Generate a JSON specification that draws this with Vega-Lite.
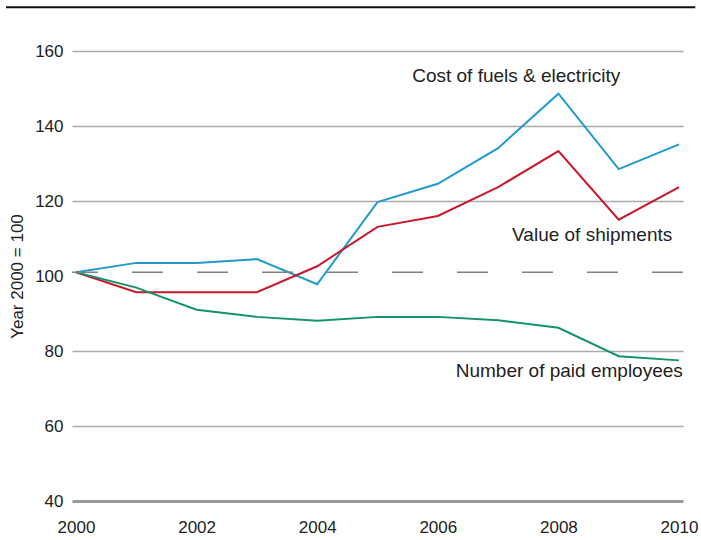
{
  "$schema": "https://vega.github.io/schema/vega-lite/v6.json",
  "width": 611,
  "height": 450,
  "autosize": {"type": "none"},
  "padding": {"left": 72, "top": 51, "right": 18, "bottom": 39},
  "background": "white",
  "config": {
    "view": {"stroke": null},
    "font": "Liberation Sans, Arial, sans-serif"
  },
  "datasets": {
    "series": [
      {"year": 2000, "series": "Cost of fuels & electricity", "value": 101},
      {"year": 2001, "series": "Cost of fuels & electricity", "value": 103.5},
      {"year": 2002, "series": "Cost of fuels & electricity", "value": 103.5},
      {"year": 2003, "series": "Cost of fuels & electricity", "value": 104.5},
      {"year": 2004, "series": "Cost of fuels & electricity", "value": 97.8},
      {"year": 2005, "series": "Cost of fuels & electricity", "value": 119.7},
      {"year": 2006, "series": "Cost of fuels & electricity", "value": 124.6},
      {"year": 2007, "series": "Cost of fuels & electricity", "value": 134.1},
      {"year": 2008, "series": "Cost of fuels & electricity", "value": 148.6},
      {"year": 2009, "series": "Cost of fuels & electricity", "value": 128.5},
      {"year": 2010, "series": "Cost of fuels & electricity", "value": 135.1},
      {"year": 2000, "series": "Value of shipments", "value": 101},
      {"year": 2001, "series": "Value of shipments", "value": 95.7},
      {"year": 2002, "series": "Value of shipments", "value": 95.7},
      {"year": 2003, "series": "Value of shipments", "value": 95.7},
      {"year": 2004, "series": "Value of shipments", "value": 102.6},
      {"year": 2005, "series": "Value of shipments", "value": 113.1},
      {"year": 2006, "series": "Value of shipments", "value": 116.0},
      {"year": 2007, "series": "Value of shipments", "value": 123.7},
      {"year": 2008, "series": "Value of shipments", "value": 133.3},
      {"year": 2009, "series": "Value of shipments", "value": 115.0},
      {"year": 2010, "series": "Value of shipments", "value": 123.7},
      {"year": 2000, "series": "Number of paid employees", "value": 101},
      {"year": 2001, "series": "Number of paid employees", "value": 96.9},
      {"year": 2002, "series": "Number of paid employees", "value": 91.0},
      {"year": 2003, "series": "Number of paid employees", "value": 89.1},
      {"year": 2004, "series": "Number of paid employees", "value": 88.1},
      {"year": 2005, "series": "Number of paid employees", "value": 89.1},
      {"year": 2006, "series": "Number of paid employees", "value": 89.1},
      {"year": 2007, "series": "Number of paid employees", "value": 88.2},
      {"year": 2008, "series": "Number of paid employees", "value": 86.2},
      {"year": 2009, "series": "Number of paid employees", "value": 78.6},
      {"year": 2010, "series": "Number of paid employees", "value": 77.5}
    ],
    "labels": [
      {"label": "Cost of fuels & electricity", "year": 2007.3, "value": 153.3},
      {"label": "Value of shipments", "year": 2008.56, "value": 110.9},
      {"label": "Number of paid employees", "year": 2008.18, "value": 74.7}
    ],
    "ref": [{"value": 101}],
    "topline": [{"x1": 1998.84, "x2": 2010.27, "y": 171.7}]
  },
  "layer": [
    {
      "data": {"name": "series"},
      "mark": {"type": "line", "strokeWidth": 2},
      "encoding": {
        "x": {
          "field": "year", "type": "quantitative",
          "scale": {"domain": [1999.934, 2010.066], "nice": false, "zero": false},
          "axis": {
            "values": [2000, 2002, 2004, 2006, 2008, 2010],
            "format": "d", "title": null, "grid": false, "ticks": false,
            "domain": true, "domainColor": "#999999", "domainWidth": 3,
            "labelFontSize": 17, "labelColor": "#222222", "labelPadding": 18,
            "labelDx": 4, "labelFlush": false
          }
        },
        "y": {
          "field": "value", "type": "quantitative",
          "scale": {"domain": [40, 160], "nice": false, "zero": false},
          "axis": {
            "values": [40, 60, 80, 100, 120, 140, 160],
            "title": "Year 2000 = 100", "titleFontSize": 17, "titleFontWeight": "normal",
            "titleColor": "#222222", "titlePadding": 8,
            "grid": true,
            "gridColor": {"condition": {"test": "datum.value === 100 || datum.value === 40", "value": "transparent"}, "value": "#aaaaaa"},
            "gridWidth": 1.3,
            "ticks": false, "domain": false,
            "labelFontSize": 17, "labelColor": "#222222", "labelPadding": 9
          }
        },
        "color": {
          "field": "series", "type": "nominal",
          "scale": {
            "domain": ["Cost of fuels & electricity", "Value of shipments", "Number of paid employees"],
            "range": ["#1f9bcc", "#c8182c", "#13936b"]
          },
          "legend": null
        }
      }
    },
    {
      "data": {"name": "ref"},
      "mark": {"type": "rule", "color": "#808080", "strokeWidth": 1.3, "strokeDash": [31, 34]},
      "encoding": {"y": {"field": "value", "type": "quantitative"}}
    },
    {
      "data": {"name": "topline"},
      "mark": {"type": "rule", "color": "#111111", "strokeWidth": 2},
      "encoding": {
        "x": {"field": "x1", "type": "quantitative"},
        "x2": {"field": "x2"},
        "y": {"field": "y", "type": "quantitative"}
      }
    },
    {
      "data": {"name": "labels"},
      "mark": {"type": "text", "fontSize": 19, "color": "#222222", "align": "center", "baseline": "middle"},
      "encoding": {
        "x": {"field": "year", "type": "quantitative"},
        "y": {"field": "value", "type": "quantitative"},
        "text": {"field": "label"}
      }
    }
  ]
}
